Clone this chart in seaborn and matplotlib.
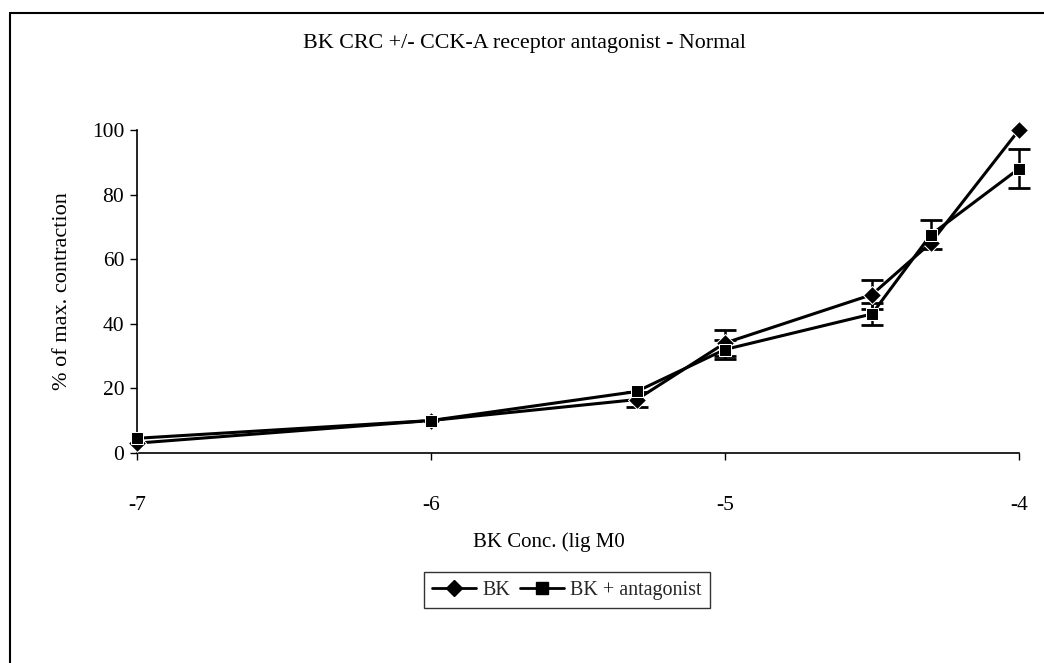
import matplotlib
matplotlib.use("Agg")
import matplotlib.pyplot as plt
import seaborn as sns
import pandas as pd
import numpy as np
from matplotlib.lines import Line2D

log_conc = [-7, -6, -5.3, -5, -4.5, -4.3, -4]
bk_mean = [3, 10, 16.5, 34, 49, 65, 100]
bk_err = [0, 0, 2.3, 4, 4.5, 0, 0]
ant_mean = [4.5, 10, 19, 32, 43, 67.5, 88]
ant_err = [0, 0, 0, 3, 3.5, 4.5, 6]
series_names = ["BK", "BK + antagonist"]
x_ticks = [-7, -6, -5, -4]
y_ticks = [0, 20, 40, 60, 80, 100]

sns.set_theme(style="ticks")
plt.rcParams['font.family'] = ['Liberation Serif', 'DejaVu Serif']

df = pd.DataFrame({
    "x": log_conc * 2,
    "y": bk_mean + ant_mean,
    "series": [series_names[0]] * len(log_conc) + [series_names[1]] * len(log_conc),
})

fig = plt.figure(figsize=(10.44, 6.63), dpi=100)
ax = fig.add_axes([0.131, 0.317, 0.845, 0.487])

sns.lineplot(data=df, x="x", y="y", hue="series", style="series",
             markers={"BK": "D", "BK + antagonist": "s"}, dashes=False,
             palette={"BK": "black", "BK + antagonist": "black"},
             linewidth=2.2, markersize=9, ax=ax, legend=False, clip_on=False, zorder=3)
xs = np.array(log_conc)
for m, e in [(bk_mean, bk_err), (ant_mean, ant_err)]:
    m = np.array(m); e = np.array(e)
    keep = e > 0
    ax.errorbar(xs[keep], m[keep], yerr=e[keep], fmt="none", ecolor="black",
                elinewidth=1.8, capsize=8, capthick=2, clip_on=False, zorder=2)

ax.set_xlim(-7, -4)
ax.set_ylim(0, 100)
ax.set_xticks(x_ticks)
ax.set_xticklabels([str(t) for t in x_ticks])
ax.set_yticks(y_ticks)
ax.tick_params(axis="both", labelsize=15.5, colors="black", width=1, length=5, direction="out")
ax.tick_params(axis="x", pad=26)
ax.tick_params(axis="y", pad=4)
for s in ["top", "right"]:
    ax.spines[s].set_visible(False)
for s in ["left", "bottom"]:
    ax.spines[s].set_linewidth(1.2)
    ax.spines[s].set_color("black")

ax.set_xlabel("BK Conc. (lig M0", fontsize=15, color="black")
ax.xaxis.set_label_coords(0.467, -0.245)
ax.set_ylabel("% of max. contraction", fontsize=16, labelpad=14, color="black")
fig.text(0.502, 0.935, "BK CRC +/- CCK-A receptor antagonist - Normal",
         ha="center", va="center", fontsize=15.8, color="black")

handles = [Line2D([], [], color="black", lw=2, marker="D", markersize=8),
           Line2D([], [], color="black", lw=2, marker="s", markersize=8)]
leg = fig.legend(handles, series_names, loc="center", bbox_to_anchor=(0.543, 0.11),
                 ncol=2, frameon=True, fancybox=False, fontsize=14.5,
                 handlelength=2.2, handletextpad=0.3, columnspacing=0.5,
                 borderpad=0.4)
leg.get_frame().set_edgecolor("black")
leg.get_frame().set_linewidth(1)

fig.add_artist(Line2D([0.01, 1.0], [0.98, 0.98], color="black", lw=1.5, transform=fig.transFigure))
fig.add_artist(Line2D([0.01, 0.01], [0.0, 0.98], color="black", lw=1.5, transform=fig.transFigure))

fig.savefig("out.png", dpi=100)
